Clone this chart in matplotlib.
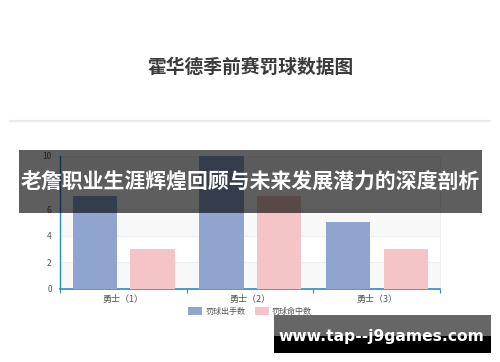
import matplotlib
matplotlib.use("Agg")
import matplotlib.pyplot as plt
from matplotlib.patches import Rectangle
from matplotlib.lines import Line2D
import numpy as np

plt.rcParams['font.family'] = ['Noto Sans CJK SC', 'DejaVu Sans']

# Data
categories = ["勇士（1）", "勇士（2）", "勇士（3）"]
attempts = [7, 10, 5]
made = [3, 7, 3]
series_names = ["罚球出手数", "罚球命中数"]
title = "霍华德季前赛罚球数据图"
banner = "老詹职业生涯辉煌回顾与未来发展潜力的深度剖析"
site = "www.tap--j9games.com"

W, H = 500, 362
fig = plt.figure(figsize=(W / 100, H / 100), dpi=100)
fig.patch.set_facecolor("white")

def fx(px):
    return px / W

def fy(py):
    return 1 - py / H

# Title and divider
fig.text(0.5, fy(67), title, ha="center", va="center", fontsize=13.5,
         fontweight="bold", color="#3a3a3a")
fig.add_artist(Line2D([fx(10), fx(490)], [fy(121), fy(121)], color="#ececec", lw=1.6))

# Chart area
ax = fig.add_axes([fx(60), fy(289), fx(440) - fx(60), fy(155.7) - fy(289)])
ax.set_facecolor("white")
x = np.arange(len(categories))
bw = 0.35
blue = "#8fa5cf"
pink = "#f4c4c6"
b1 = ax.bar(x - 0.225, attempts, bw, color=blue, zorder=3, label=series_names[0])
b2 = ax.bar(x + 0.23, made, bw, color=pink, zorder=3, label=series_names[1])

ax.set_xlim(-0.5, 2.5)
ax.set_ylim(0, 10)
for i, lo in enumerate(range(0, 10, 2)):
    ax.axhspan(lo, lo + 2, color="#f8f8f8" if i % 2 == 0 else "white", zorder=0, lw=0)
ax.set_yticks([0, 2, 4, 6, 8, 10])
ax.yaxis.grid(True, color="#eeeeee", lw=0.8, zorder=1)
ax.set_xticks(x)
ax.set_xticklabels(categories)
ax.set_xticks([-0.5, 0.5, 1.5, 2.5], minor=True)
ax.tick_params(axis="x", which="major", length=0, labelsize=6.5, labelcolor="#555555", pad=4)
ax.tick_params(axis="x", which="minor", length=3, color="#2a8ac9", width=0.8)
ax.tick_params(axis="y", length=0, labelsize=6, labelcolor="#555555", pad=6)
axis_blue = "#2a8ac9"
ax.spines["left"].set_color(axis_blue)
ax.spines["bottom"].set_color(axis_blue)
ax.spines["left"].set_linewidth(1.0)
ax.spines["bottom"].set_linewidth(1.2)
ax.spines["top"].set_visible(False)
ax.spines["right"].set_color("#eeeeee")
ax.spines["right"].set_linewidth(0.8)

fig.legend(handles=[b1, b2], labels=series_names, loc="center",
           bbox_to_anchor=(0.5, fy(311)), ncol=2, frameon=False, fontsize=5.8,
           handlelength=1.7, handleheight=1.1, columnspacing=1.2, handletextpad=0.4,
           labelcolor="#555555")

# Overlay banner
fig.add_artist(Rectangle((fx(19), fy(212.7)), fx(482) - fx(19), fy(150) - fy(212.7),
                         transform=fig.transFigure, facecolor="black", alpha=0.63,
                         lw=0, zorder=10))
fig.text(fx(250.5), fy(182), banner, ha="center", va="center", fontsize=15,
         fontweight="bold", color="white", zorder=11)

# Site badge
fig.add_artist(Rectangle((fx(274), fy(335.7)), fx(491) - fx(274), fy(315) - fy(335.7),
                         transform=fig.transFigure, facecolor="#666666", lw=0, zorder=10))
fig.add_artist(Rectangle((fx(274), fy(353.3)), fx(491) - fx(274), fy(335.7) - fy(353.3),
                         transform=fig.transFigure, facecolor="black", lw=0, zorder=10))
fig.text(fx(381.5), fy(337), site, ha="center", va="center", fontsize=11.2,
         fontweight="bold", color="white", family="DejaVu Sans", zorder=11)

fig.savefig("out.png", dpi=100, facecolor="white")
